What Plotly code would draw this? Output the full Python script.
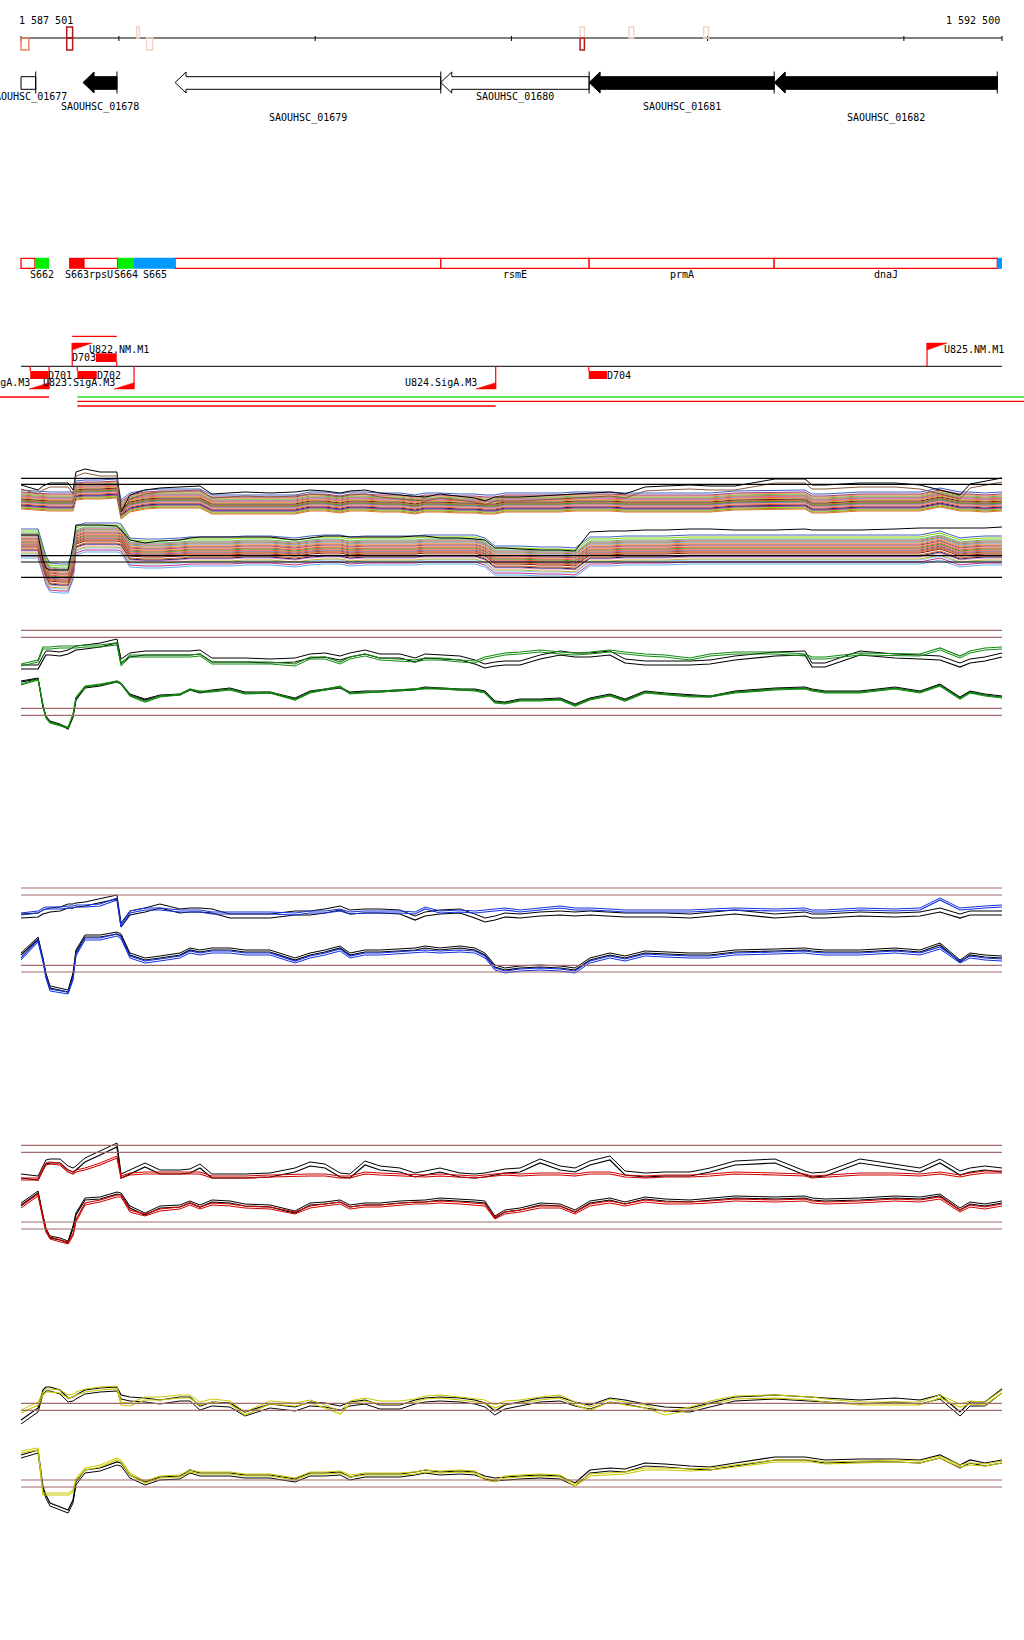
import plotly.graph_objects as go

# ---------------- region / ruler ----------------
REGION_START = 1587501
REGION_END = 1592500
RULER_TICKS = [1587501, 1588000, 1589000, 1590000, 1591000, 1592000, 1592500]
RULER_LABELS = ["1 587 501", "1 592 500"]

# coverage marks drawn on the ruler
MARK_START = [1587501, 1587734, 1587734, 1588091, 1588141, 1590350, 1590350, 1590599, 1590980]
MARK_END = [1587541, 1587764, 1587764, 1588104, 1588172, 1590372, 1590372, 1590623, 1591005]
MARK_STRAND = ['-', '+', '-', '+', '-', '+', '-', '+', '+']
MARK_LEVEL = ['mid', 'high', 'high', 'low', 'low', 'low', 'high', 'low', 'low']

# ---------------- genes ----------------
GENE_NAMES = ['SAOUHSC_01677', 'SAOUHSC_01678', 'SAOUHSC_01679',
              'SAOUHSC_01680', 'SAOUHSC_01681', 'SAOUHSC_01682']
GENE_START = [1587420, 1587817, 1588286, 1589640, 1590396, 1591339]
GENE_END = [1587576, 1587990, 1589640, 1590396, 1591339, 1592476]
GENE_STRAND = ['-', '-', '-', '-', '-', '-']
GENE_TYPE = ['open', 'filled', 'open', 'open', 'filled', 'filled']

# ---------------- segments ----------------
SEG_NAMES = ['', 'S662', 'S663', 'rpsU', 'S664', 'S665', '', 'rsmE', 'prmA', 'dnaJ', '']
SEG_START = [1587501, 1587572, 1587746, 1587822, 1587994, 1588077, 1588286, 1589640, 1590396, 1591339, 1592476]
SEG_END = [1587572, 1587644, 1587822, 1587994, 1588077, 1588286, 1589640, 1590396, 1591339, 1592476, 1592500]
SEG_KIND = ['gene', 'up', 'down', 'gene', 'up', 'other', 'gene', 'gene', 'gene', 'gene', 'other']

# ---------------- sites ----------------
FLAG_NAMES = ['U821.SigA.M3', 'U822.NM.M1', 'U823.SigA.M3', 'U824.SigA.M3', 'U825.NM.M1']
FLAG_POS = [1587644, 1587762, 1588077, 1589920, 1592118]
FLAG_STRAND = ['-', '+', '-', '-', '+']

D_NAMES = ['D701', 'D702', 'D703', 'D704']
D_START = [1587548, 1587788, 1587883, 1590394]
D_END = [1587640, 1587887, 1587989, 1590487]
D_STRAND = ['-', '-', '+', '-']

TX_START = [1587300, 1587788, 1587788, 1587788, 1587762]
TX_END = [1587644, 1592700, 1592700, 1589920, 1587989]
TX_KIND = ['red', 'green', 'red', 'red', 'red']
TX_ROW = [0, 0, 1, 2, -1]

# ---------------- signal profiles ----------------
GRID_X = [1587501, 1587588, 1587613, 1587628, 1587649, 1587700, 1587741, 1587766, 1587781, 1587827,
          1587904, 1587990, 1588011, 1588056, 1588133, 1588209, 1588311, 1588362, 1588413, 1588474,
          1588566, 1588642, 1588770, 1588897, 1588974, 1589050, 1589127, 1589177, 1589254, 1589330,
          1589432, 1589509, 1589560, 1589636, 1589738, 1589814, 1589865, 1589916, 1589967, 1590044,
          1590146, 1590248, 1590324, 1590400, 1590502, 1590579, 1590681, 1590783, 1590910, 1591012,
          1591139, 1591343, 1591496, 1591532, 1591598, 1591776, 1591955, 1592082, 1592184, 1592286,
          1592337, 1592413, 1592500]

# multi-sample track
MULTI_UP_BASE = [95, 94, 93, 93, 93, 93, 93, 93, 104, 105,
                 105, 106, 85, 92, 95, 96, 96, 96, 96, 90,
                 90, 90, 90, 90, 93, 93, 91, 93, 93, 92,
                 92, 90, 92, 92, 91, 91, 90, 90, 92, 92,
                 92, 92, 93, 93, 93, 92, 92, 92, 92, 92,
                 94, 95, 95, 91, 91, 93, 93, 93, 97, 93,
                 93, 92, 93]
MULTI_LO_BASE = [52, 52, 35, 25, 18, 17, 17, 30, 55, 58,
                 58, 58, 57, 43, 42, 42, 43, 44, 44, 44,
                 44, 45, 45, 43, 45, 46, 46, 44, 45, 45,
                 45, 45, 46, 46, 46, 46, 43, 35, 35, 35,
                 34, 34, 33, 44, 44, 45, 45, 45, 46, 46,
                 46, 46, 46, 46, 46, 46, 46, 46, 50, 43,
                 44, 45, 45]
MULTI_UP_TOP = [110, 105, 109, 110, 112, 112, 112, 105, 123, 126,
                123, 123, 83, 100, 105, 107, 108, 109, 109, 101,
                102, 103, 102, 103, 105, 104, 102, 104, 105, 102,
                100, 99, 98, 101, 99, 97, 94, 98, 98, 98,
                99, 100, 101, 102, 103, 101, 108, 109, 110, 109,
                109, 116, 116, 110, 110, 112, 112, 110, 105, 100,
                111, 114, 117]
MULTI_LO_TOP = [60, 60, 35, 27, 25, 25, 25, 50, 70, 70,
                70, 69, 65, 55, 52, 54, 55, 57, 58, 58,
                58, 58, 58, 55, 57, 59, 59, 58, 58, 58,
                58, 59, 59, 57, 57, 56, 55, 47, 47, 46,
                45, 45, 44, 63, 64, 64, 65, 65, 66, 66,
                65, 65, 66, 65, 65, 65, 66, 67, 67, 67,
                67, 67, 68]
MULTI_UP_OFFSETS = [-9, -8, -7, -6, -6, -5, -4, -3, -3, -2, -1, -1, 0, 1, 1, 2, 3, 4, 4, 5, 6, 7, 8, 10]
MULTI_LO_OFFSETS = [-15, -13, -11, -10, -8, -7, -6, -4, -3, -2, -1, 0, 1, 2, 3, 4, 5, 6, 7, 8, 9, 10, 12, 14]
MULTI_REF_LEVELS = [116.7, 110.7, 39.3, 33, 17.7]

# green track
GREEN_UP_BLACK = [71, 71, 80, 85, 85, 84, 86, 89, 90, 91,
                  93, 97, 77, 83, 85, 85, 85, 85, 86, 78,
                  78, 78, 77, 78, 82, 83, 80, 83, 86, 82,
                  82, 78, 82, 81, 80, 76, 72, 74, 75, 75,
                  81, 85, 83, 83, 85, 77, 75, 75, 75, 76,
                  80, 84, 85, 73, 73, 85, 82, 81, 80, 73,
                  77, 79, 83]
GREEN_UP_COLOR = [76, 80, 93, 93, 93, 94, 94, 94, 94, 95,
                  95, 97, 76, 85, 85, 85, 85, 85, 86, 78,
                  78, 78, 78, 76, 83, 83, 78, 83, 86, 82,
                  81, 80, 82, 82, 80, 79, 83, 85, 87, 88,
                  90, 88, 87, 88, 90, 88, 86, 85, 82, 86,
                  88, 88, 86, 83, 83, 87, 86, 86, 92, 84,
                  89, 92, 93]
GREEN_LO_BLACK = [58, 61, 33, 23, 18, 15, 11, 23, 40, 52,
                  54, 58, 56, 45, 40, 44, 45, 50, 47, 49,
                  51, 47, 47, 41, 48, 50, 52, 47, 48, 48,
                  49, 50, 52, 51, 50, 50, 48, 38, 37, 40,
                  40, 41, 35, 41, 45, 40, 48, 46, 44, 43,
                  48, 51, 52, 50, 48, 48, 52, 48, 55, 42,
                  48, 45, 43]
GREEN_LO_COLOR = [55, 60, 35, 22, 17, 14, 12, 25, 42, 53,
                  55, 58, 56, 44, 38, 43, 45, 50, 48, 48,
                  50, 46, 47, 40, 47, 50, 53, 46, 47, 48,
                  49, 50, 51, 51, 50, 49, 47, 37, 36, 39,
                  39, 40, 34, 40, 44, 39, 47, 45, 43, 43,
                  47, 50, 51, 49, 47, 47, 51, 47, 54, 41,
                  47, 44, 42]
GREEN_REF_LEVELS = [109.7, 102.7, 31.7, 24.7]

# blue track
BLUE_UP_BLACK = [82, 83, 86, 87, 88, 89, 92, 92, 93, 94,
                 97, 101, 73, 85, 88, 92, 87, 88, 88, 87,
                 82, 82, 82, 85, 85, 87, 90, 86, 87, 87,
                 86, 80, 84, 86, 87, 82, 78, 80, 83, 82,
                 84, 85, 84, 85, 84, 83, 83, 83, 82, 84,
                 86, 82, 84, 82, 82, 84, 83, 84, 88, 82,
                 85, 85, 85]
BLUE_UP_COLOR = [85, 87, 90, 91, 91, 91, 92, 92, 93, 93,
                 94, 100, 73, 87, 90, 90, 88, 88, 88, 86,
                 86, 86, 86, 85, 87, 87, 89, 86, 87, 87,
                 87, 86, 91, 87, 88, 87, 88, 89, 90, 88,
                 90, 92, 90, 90, 89, 88, 88, 88, 88, 89,
                 90, 89, 90, 88, 88, 90, 89, 90, 100, 90,
                 91, 92, 93]
BLUE_LO_BLACK = [45, 61, 40, 25, 12, 10, 8, 25, 48, 63,
                 63, 66, 64, 45, 40, 42, 45, 50, 48, 50,
                 50, 48, 48, 40, 45, 48, 52, 45, 48, 48,
                 49, 50, 52, 50, 52, 50, 45, 33, 30, 32,
                 33, 32, 30, 40, 45, 42, 47, 46, 45, 45,
                 48, 49, 50, 49, 48, 48, 50, 48, 55, 38,
                 45, 43, 42]
BLUE_LO_COLOR = [42, 60, 40, 24, 11, 9, 8, 22, 46, 62,
                 62, 66, 63, 44, 39, 41, 44, 49, 47, 49,
                 49, 47, 47, 39, 44, 47, 51, 44, 47, 47,
                 48, 49, 50, 49, 50, 49, 44, 32, 29, 31,
                 32, 31, 29, 39, 44, 41, 46, 45, 44, 44,
                 47, 48, 49, 48, 47, 47, 49, 47, 53, 39,
                 44, 42, 41]
BLUE_REF_LEVELS = [112, 105, 34.7, 28]

# red track
RED_UP_BLACK = [72, 70, 80, 86, 87, 87, 80, 78, 80, 88,
                95, 103, 72, 76, 83, 76, 76, 77, 82, 72,
                72, 72, 73, 78, 84, 82, 73, 72, 85, 80,
                78, 73, 75, 78, 73, 72, 73, 75, 77, 78,
                87, 80, 78, 85, 90, 75, 73, 74, 74, 78,
                85, 87, 75, 73, 74, 87, 82, 78, 87, 75,
                78, 80, 78]
RED_UP_COLOR = [70, 70, 80, 85, 86, 85, 78, 76, 78, 80,
                85, 92, 72, 75, 76, 76, 76, 76, 76, 72,
                72, 72, 73, 74, 74, 74, 72, 72, 76, 75,
                74, 73, 73, 74, 73, 72, 73, 74, 75, 74,
                75, 75, 74, 76, 76, 73, 72, 73, 73, 74,
                76, 75, 74, 72, 73, 75, 75, 74, 76, 73,
                75, 77, 77]
RED_LO_BLACK = [45, 57, 33, 20, 12, 10, 7, 22, 35, 50,
                51, 56, 55, 42, 35, 42, 43, 47, 43, 48,
                47, 44, 43, 37, 45, 46, 48, 43, 45, 45,
                47, 48, 48, 50, 49, 48, 47, 32, 38, 40,
                45, 44, 38, 47, 50, 46, 51, 49, 48, 50,
                52, 51, 52, 50, 49, 50, 52, 51, 54, 40,
                46, 44, 47]
RED_LO_COLOR = [44, 56, 33, 20, 13, 10, 8, 16, 30, 47,
                50, 55, 55, 40, 36, 41, 43, 47, 43, 47,
                46, 44, 43, 38, 44, 46, 48, 43, 45, 45,
                47, 48, 48, 49, 48, 47, 46, 33, 38, 40,
                44, 44, 38, 46, 49, 46, 50, 48, 48, 49,
                51, 50, 51, 49, 48, 49, 51, 50, 53, 40,
                45, 43, 46]
RED_REF_LEVELS = [104.7, 97.7, 28, 21]

# yellow track
YELLOW_UP_BLACK = [100, 112, 130, 133, 133, 130, 122, 123, 125, 130,
                   132, 133, 125, 123, 122, 120, 123, 123, 114, 118,
                   117, 108, 116, 113, 118, 117, 114, 118, 120, 115,
                   115, 120, 122, 123, 122, 120, 117, 109, 115, 118,
                   122, 123, 118, 115, 122, 120, 116, 113, 112, 117,
                   123, 125, 123, 123, 122, 120, 122, 120, 125, 108,
                   118, 118, 131]
YELLOW_UP_COLOR = [107, 115, 125, 128, 128, 127, 122, 123, 125, 128,
                   130, 131, 115, 114, 120, 120, 122, 122, 115, 118,
                   116, 105, 116, 114, 117, 112, 106, 116, 119, 116,
                   116, 118, 121, 122, 120, 118, 117, 112, 116, 117,
                   120, 122, 115, 110, 118, 115, 112, 105, 110, 116,
                   121, 122, 120, 120, 118, 115, 115, 115, 122, 113,
                   116, 115, 127]
YELLOW_LO_BLACK = [65, 70, 33, 25, 17, 13, 10, 20, 38, 50,
                   52, 58, 57, 45, 38, 43, 44, 50, 47, 47,
                   47, 45, 45, 41, 47, 47, 48, 43, 46, 46,
                   46, 48, 50, 48, 49, 48, 44, 42, 43, 44,
                   45, 44, 37, 50, 52, 51, 57, 56, 54, 53,
                   57, 63, 63, 62, 60, 61, 61, 60, 65, 55,
                   60, 57, 60]
YELLOW_LO_COLOR = [67, 70, 25, 25, 25, 25, 25, 28, 40, 50,
                   53, 60, 58, 45, 37, 42, 43, 48, 46, 46,
                   46, 44, 44, 40, 46, 46, 47, 43, 45, 45,
                   45, 46, 48, 47, 48, 47, 40, 38, 42, 43,
                   44, 43, 34, 44, 45, 46, 50, 50, 49, 50,
                   53, 58, 58, 58, 56, 57, 58, 57, 62, 53,
                   55, 54, 57]
YELLOW_REF_LEVELS = [116.7, 109.7, 40, 33]

# replicate shifts per panel: [upper black, upper colour, lower black, lower colour]
REP_SHIFT = {'green': [4, -2, 1, 1], 'blue': [4, 2, 2, -2], 'red': [4, 2, 2, -2], 'yellow': [-4, 3, -3, 2]}

# ---------------- styles / layout ----------------
W, H = 1024, 1640
PX_LEFT, PX_RIGHT = 21, 1002
BP_PER_PX = (REGION_END - REGION_START) / (PX_RIGHT - PX_LEFT)
X_RANGE = [REGION_START - PX_LEFT * BP_PER_PX, REGION_END + (W - PX_RIGHT) * BP_PER_PX]
FONT = dict(family='DejaVu Sans Mono', size=10, color='black')
REF_COLOR = '#a26b6b'
LEVEL_COLOR = {'low': '#f7d2c8', 'mid': '#ee7f63', 'high': '#b0181c'}
SEG_COLOR = {'up': '#00ee00', 'down': '#ff0000', 'other': '#0099ff'}
TX_COLOR = {'red': '#ff0000', 'green': '#22dd22'}
MULTI_UP_COLORS = ['#e8702a', '#a08a28', '#7fd400', '#5fb0f0', '#c0308a', '#1c1c6e', '#e04a2a', '#e38ac0',
                   '#f0a070', '#8a64b0', '#a0522d', '#3aa03a', '#d2601a', '#88c8ff', '#7a1010', '#b8b030',
                   '#ff5a3a', '#6aa0e0', '#d070b0', '#c08040', '#60c060', '#ff9050', '#9a3a80', '#4060c0']
MULTI_LO_COLORS = ['#5fb0f0', '#c0308a', '#88c8ff', '#b8b030', '#e38ac0', '#1c1c6e', '#d2601a', '#7a1010',
                   '#e8702a', '#a0522d', '#8a64b0', '#ff5a3a', '#3aa03a', '#e04a2a', '#f0a070', '#9a3a80',
                   '#c08040', '#ff9050', '#6aa0e0', '#a08a28', '#d070b0', '#60c060', '#7fd400', '#4060c0']
SIGNAL_COLOR = {'green': '#118c11', 'blue': '#1530e0', 'red': '#d00000', 'yellow': '#c8c800'}

TRACKS = {
    'ruler': ('y', 0, 60, 'annot'),
    'genes': ('y2', 60, 130, 'annot'),
    'segs': ('y3', 240, 285, 'annot'),
    'sites': ('y4', 320, 415, 'annot'),
    'multi': ('y5', 455, 595, 'signal'),
    'green': ('y6', 620, 740, 'signal'),
    'blue': ('y7', 880, 1000, 'signal'),
    'red': ('y8', 1140, 1250, 'signal'),
    'yellow': ('y9', 1380, 1520, 'signal'),
}

fig = go.Figure()
shapes, annots = [], []
layout = dict(width=W, height=H, margin=dict(l=0, r=0, t=0, b=0), paper_bgcolor='white',
              plot_bgcolor='white', showlegend=False,
              xaxis=dict(range=X_RANGE, visible=False, domain=[0, 1], fixedrange=True))
for name, (ax, top, bottom, kind) in TRACKS.items():
    key = 'yaxis' if ax == 'y' else 'yaxis' + ax[1:]
    h = bottom - top
    layout[key] = dict(domain=[1 - bottom / H, 1 - top / H], range=[h, 0] if kind == 'annot' else [0, h],
                       visible=False, anchor='x', fixedrange=True)


def line(ax, x0, x1, y0, y1, color, width=1.0):
    shapes.append(dict(type='line', xref='x', yref=ax, x0=x0, x1=x1, y0=y0, y1=y1,
                       line=dict(color=color, width=width)))


def rect(ax, x0, x1, y0, y1, fill, color=None, width=0):
    shapes.append(dict(type='rect', xref='x', yref=ax, x0=x0, x1=x1, y0=y0, y1=y1, fillcolor=fill,
                       line=dict(color=color or fill, width=width)))


def label(ax, x, y, text, anchor='center', shift=0):
    annots.append(dict(x=x, y=y, xref='x', yref=ax, text=text, showarrow=False, font=FONT,
                       xanchor=anchor, yanchor='middle', xshift=shift, borderpad=0, borderwidth=0))


def poly(ax, xs, ys, fill, color, width=1.0):
    fig.add_trace(go.Scatter(x=xs, y=ys, mode='lines', fill='toself', fillcolor=fill,
                             line=dict(color=color, width=width), yaxis=ax, hoverinfo='skip'))


# ---------------- ruler ----------------
ax = TRACKS['ruler'][0]
line(ax, REGION_START, REGION_END, 38, 38, 'black', 1)
for t in RULER_TICKS:
    line(ax, t, t, 36, 41, 'black', 1)
label(ax, REGION_START, 20, RULER_LABELS[0], 'left', -2)
label(ax, REGION_END, 20, RULER_LABELS[1], 'right', -2)
for s, e, st, lv in zip(MARK_START, MARK_END, MARK_STRAND, MARK_LEVEL):
    y0, y1 = (27, 38) if st == '+' else (38, 50)
    rect(ax, s, e, y0, y1, 'rgba(255,255,255,0)', LEVEL_COLOR[lv], 1.5)

# ---------------- genes ----------------
ax = TRACKS['genes'][0]
HEAD = 11 * BP_PER_PX
C, BT, BB, HT, HB = 22.5, 16.7, 29.3, 12, 33
for i, (n, s, e, st, tp) in enumerate(zip(GENE_NAMES, GENE_START, GENE_END, GENE_STRAND, GENE_TYPE)):
    vs, ve = max(s, REGION_START), min(e, REGION_END)
    fill = 'black' if tp == 'filled' else 'white'
    if st == '-' and s >= REGION_START:
        xs = [s, s + HEAD, s + HEAD, e, e, s + HEAD, s + HEAD, s]
        ys = [C, HT, BT, BT, BB, BB, HB, C]
    else:
        xs = [vs, ve, ve, vs, vs]
        ys = [BT, BT, BB, BB, BT]
    poly(ax, xs, ys, fill, 'black', 1)
    line(ax, ve, ve, HT - 0.5, HB + 0.5, 'black', 1)
    label(ax, (vs + ve) / 2, [37, 47, 58][i % 3], n)

# ---------------- segments ----------------
ax = TRACKS['segs'][0]
for n, s, e, k in zip(SEG_NAMES, SEG_START, SEG_END, SEG_KIND):
    if k == 'gene':
        rect(ax, s, e, 18.3, 28.3, 'white', '#ff0000', 1.3)
for n, s, e, k in zip(SEG_NAMES, SEG_START, SEG_END, SEG_KIND):
    if k != 'gene':
        rect(ax, s, e, 17.8, 28.8, SEG_COLOR[k])
    if n:
        label(ax, (s + e) / 2, 34.5, n)

# ---------------- sites ----------------
ax = TRACKS['sites'][0]
BASE = 46.3
line(ax, REGION_START, REGION_END, BASE, BASE, 'black', 1)
FLAG_W = 20 * BP_PER_PX
for n, p, st in zip(FLAG_NAMES, FLAG_POS, FLAG_STRAND):
    if st == '+':
        line(ax, p, p, 23, BASE, '#ff0000', 1.2)
        poly(ax, [p, p + FLAG_W, p, p], [23, 23, 30, 23], '#ff0000', '#ff0000', 0.5)
        label(ax, p + FLAG_W, 30, n, 'left', -3)
    else:
        line(ax, p, p, BASE, 69, '#ff0000', 1.2)
        poly(ax, [p, p, p - FLAG_W, p], [62.7, 69, 69, 62.7], '#ff0000', '#ff0000', 0.5)
        label(ax, p - FLAG_W, 63, n, 'right', 1)
for n, s, e, st in zip(D_NAMES, D_START, D_END, D_STRAND):
    if st == '-':
        rect(ax, s, e, 51, 59, '#ff0000')
        line(ax, s, s, BASE, 51, '#ff0000', 1.2)
        label(ax, e, 56, n, 'left', 0)
    else:
        rect(ax, s, e, 33.3, 42, '#ff0000')
        line(ax, e, e, 42, BASE, '#ff0000', 1.2)
        label(ax, s, 38, n, 'right', 0)
for s, e, k, r in zip(TX_START, TX_END, TX_KIND, TX_ROW):
    y = {-1: 16.3, 0: 77, 1: 81.3, 2: 86}[r]
    line(ax, s, e, y, y, TX_COLOR[k], 1.3)


# ---------------- signal tracks ----------------
def add_line(ax, ys, color, width=1.0):
    fig.add_trace(go.Scatter(x=GRID_X, y=ys, mode='lines', line=dict(color=color, width=width),
                             yaxis=ax, hoverinfo='skip'))


ax = TRACKS['multi'][0]
for off, col in zip(MULTI_UP_OFFSETS, MULTI_UP_COLORS):
    add_line(ax, [b + off for b in MULTI_UP_BASE], col)
for off, col in zip(MULTI_LO_OFFSETS, MULTI_LO_COLORS):
    add_line(ax, [b + off for b in MULTI_LO_BASE], col)
add_line(ax, MULTI_UP_TOP, 'black')
add_line(ax, [v - 4 for v in MULTI_UP_TOP], '#8b5a3a')
add_line(ax, MULTI_LO_TOP, 'black')
for lv in MULTI_REF_LEVELS:
    line(ax, REGION_START, REGION_END, lv, lv, 'black', 1.2)

PANELS = [
    ('green', GREEN_UP_BLACK, GREEN_UP_COLOR, GREEN_LO_BLACK, GREEN_LO_COLOR, GREEN_REF_LEVELS),
    ('blue', BLUE_UP_BLACK, BLUE_UP_COLOR, BLUE_LO_BLACK, BLUE_LO_COLOR, BLUE_REF_LEVELS),
    ('red', RED_UP_BLACK, RED_UP_COLOR, RED_LO_BLACK, RED_LO_COLOR, RED_REF_LEVELS),
    ('yellow', YELLOW_UP_BLACK, YELLOW_UP_COLOR, YELLOW_LO_BLACK, YELLOW_LO_COLOR, YELLOW_REF_LEVELS),
]
for name, ub, uc, lb, lc, refs in PANELS:
    ax = TRACKS[name][0]
    col = SIGNAL_COLOR[name]
    sh = REP_SHIFT[name]
    for lv in refs:
        line(ax, REGION_START, REGION_END, lv, lv, REF_COLOR, 1.2)
    for series, color, shift in ((ub, 'black', sh[0]), (lb, 'black', sh[2]),
                                 (uc, col, sh[1]), (lc, col, sh[3])):
        add_line(ax, series, color, 1.2)
        add_line(ax, [v + shift for v in series], color, 1.0)

layout['shapes'] = shapes
layout['annotations'] = annots
fig.update_layout(**layout)
fig.write_html("out.html", config={'displayModeBar': False},
               post_script="document.body.style.margin='0';document.body.style.padding='0';")
